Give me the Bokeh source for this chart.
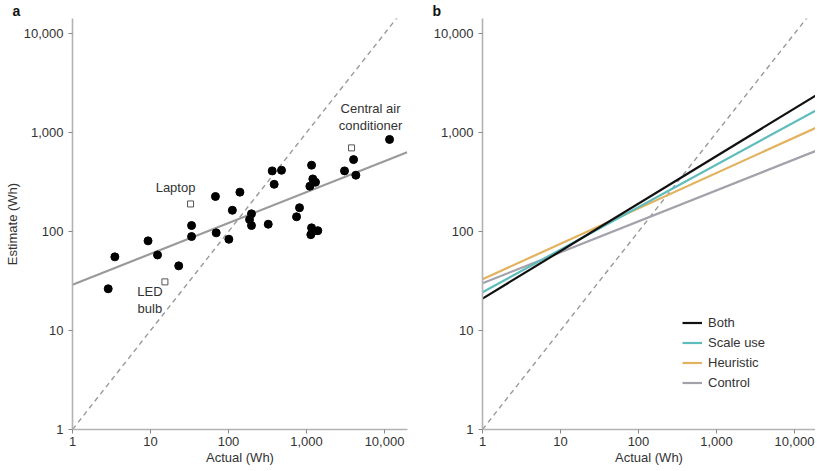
from bokeh.plotting import figure
from bokeh.layouts import row
from bokeh.models import (FixedTicker, NumeralTickFormatter, ColumnDataSource)
from bokeh.core.properties import value
from bokeh.embed import file_html
from bokeh.resources import INLINE

# ---------------- data ----------------
ticks = [1, 10, 100, 1000, 10000]

# panel a: appliances (actual Wh, estimated Wh)
actual = [2.87, 3.49, 9.3, 12.3, 23, 33.6, 33.6, 68, 69.5, 101, 140, 112, 197, 186, 197,
          323, 363, 478, 385, 813, 745, 1160, 1204, 1304, 1104, 1160, 1242, 1396, 1135,
          3070, 4010, 4290, 11600]
estimate = [26.4, 55.5, 80.5, 58, 45, 115, 89, 226, 97, 83.6, 250, 164, 151, 132, 115,
            118.6, 410, 416, 300, 174, 141, 468, 340, 315, 287, 109, 101, 102, 93,
            410, 533, 371, 852]

named_items = ["Laptop", "LED\nbulb", "Central air\nconditioner"]
named_actual = [32.6, 15.3, 3776]
named_estimate = [190, 31, 700]

fit_x = [1, 19500]
fit_y = [29, 633]

diag = [1, 20000]

# panel b: fitted lines per condition (values at x = 1 and x = 19,500)
cond_x = [1, 19500]
conditions = ["Both", "Scale use", "Heuristic", "Control"]
cond_y = {
    "Both": [21, 2410],
    "Scale use": [24.4, 1700],
    "Heuristic": [33, 1130],
    "Control": [30, 660],
}
cond_colors = {"Both": "#111111", "Scale use": "#5fbcbc", "Heuristic": "#e2b25e", "Control": "#a3a1aa"}

panel_letters = ["a", "b"]

FONT = "Liberation Sans"
AXIS_COL = "#b3b3b3"
TXT_COL = "#333333"


def style_axes(p, show_ylabel):
    for ax in (p.xaxis[0], p.yaxis[0]):
        ax.ticker = FixedTicker(ticks=ticks, minor_ticks=[])
        ax.formatter = NumeralTickFormatter(format="0,0")
        ax.axis_line_color = AXIS_COL
        ax.axis_line_width = 1.6
        ax.major_tick_line_color = "#888888"
        ax.major_tick_out = 4
        ax.major_tick_in = 0
        ax.minor_tick_line_color = None
        ax.major_label_text_font = FONT
        ax.major_label_text_font_size = "13px"
        ax.major_label_text_color = TXT_COL
        ax.axis_label_text_font = FONT
        ax.axis_label_text_font_size = "13px"
        ax.axis_label_text_font_style = "normal"
        ax.axis_label_text_color = TXT_COL
    p.xaxis.axis_label = "Actual (Wh)"
    p.xaxis.major_label_standoff = 3
    p.xaxis.axis_label_standoff = 1
    p.yaxis.major_label_standoff = 5
    p.yaxis.axis_label_standoff = 1
    if show_ylabel:
        p.yaxis.axis_label = "Estimate (Wh)"
    p.xgrid.visible = False
    p.ygrid.visible = False
    p.outline_line_color = None


def letter(p, txt, off):
    p.title.text = txt
    p.title.align = "left"
    p.title.offset = off
    p.title.standoff = 0
    p.title.text_font = FONT
    p.title.text_font_size = "14px"
    p.title.text_font_style = "bold"
    p.title.text_color = "#111111"


YR = (1, 14200)
H = 468

# ---------------- panel a ----------------
pa = figure(width=420, height=H, x_axis_type="log", y_axis_type="log",
            x_range=(1, 19700), y_range=YR, output_backend="svg", toolbar_location=None,
            min_border_left=72, min_border_right=13, min_border_top=0, min_border_bottom=39)
style_axes(pa, True)
letter(pa, panel_letters[0], -60)

pa.line(diag, diag, line_color="#999999", line_width=1.4, line_dash="5 4")
pa.line(fit_x, fit_y, line_color="#9a9a9a", line_width=2.2)
pa.scatter(actual, estimate, size=8, color="#000000")
src = ColumnDataSource(dict(x=named_actual, y=named_estimate, t=named_items))
pa.scatter("x", "y", source=src, marker="square", size=6, fill_color="white",
           line_color="#555555", line_width=1)
offs = [(-15, -16), (-15, 18), (19, -31)]
for i, (dx, dy) in enumerate(offs):
    pa.text([named_actual[i]], [named_estimate[i]], text=[named_items[i]],
            x_offset=dx, y_offset=dy, text_align="center", text_baseline="middle",
            text_font=value(FONT), text_font_size="13px", text_color=TXT_COL,
            text_line_height=1.15)

# ---------------- panel b ----------------
pb = figure(width=395, height=H, x_axis_type="log", y_axis_type="log",
            x_range=(1, 18600), y_range=YR, output_backend="svg", toolbar_location=None,
            min_border_left=62, min_border_right=0, min_border_top=0, min_border_bottom=39)
style_axes(pb, False)
letter(pb, panel_letters[1], -50)
pb.line(diag, diag, line_color="#999999", line_width=1.4, line_dash="5 4")
for c in reversed(conditions):
    pb.line(cond_x, cond_y[c], line_color=cond_colors[c], line_width=2.2, legend_label=c)

lg = pb.legend[0]
items = list(lg.items)
lg.items = list(reversed(items))
lg.location = (200, 39)
lg.padding = 0
lg.margin = 0
lg.spacing = 5
lg.glyph_width = 20
lg.glyph_height = 15
lg.label_height = 15
lg.label_standoff = 6
lg.border_line_color = None
lg.background_fill_alpha = 0
lg.label_text_font = FONT
lg.label_text_font_size = "13px"
lg.label_text_color = TXT_COL

p = row(pa, pb)
open("out.html", "w").write(file_html(p, INLINE))
